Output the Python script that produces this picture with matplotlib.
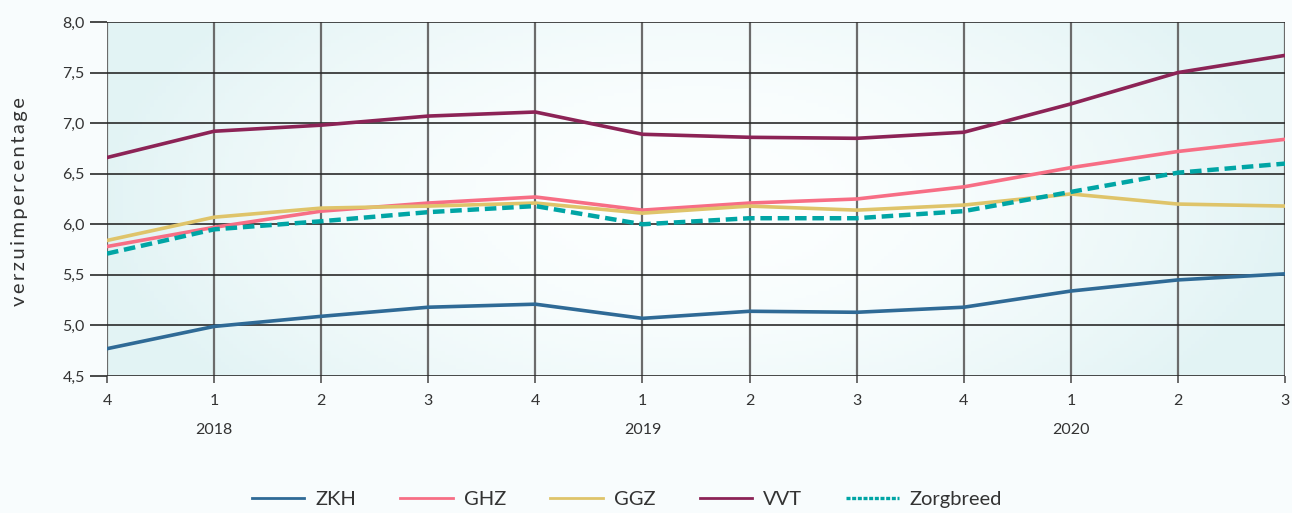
import numpy as np
import matplotlib.pyplot as plt
from matplotlib.lines import Line2D

plt.rcParams['font.family'] = ['Lato', 'DejaVu Sans']

quarters = ["4", "1", "2", "3", "4", "1", "2", "3", "4", "1", "2", "3"]
years = ["2018", "2019", "2020"]
year_pos = [1, 5, 9]

zkh = [4.77, 4.99, 5.09, 5.18, 5.21, 5.07, 5.14, 5.13, 5.18, 5.34, 5.45, 5.51]
ghz = [5.78, 5.97, 6.13, 6.21, 6.27, 6.14, 6.21, 6.25, 6.37, 6.56, 6.72, 6.84]
ggz = [5.84, 6.07, 6.16, 6.18, 6.21, 6.11, 6.18, 6.14, 6.19, 6.30, 6.20, 6.18]
vvt = [6.66, 6.92, 6.98, 7.07, 7.11, 6.89, 6.86, 6.85, 6.91, 7.19, 7.50, 7.67]
zorgbreed = [5.71, 5.95, 6.03, 6.12, 6.18, 6.00, 6.06, 6.06, 6.13, 6.32, 6.51, 6.60]

bg = "#f8fcfd"
fig = plt.figure(figsize=(12.92, 5.13), dpi=100, facecolor=bg)
ax = fig.add_axes([107 / 1292, 1 - 376 / 513, 1178 / 1292, 354 / 513])
ax.set_facecolor(bg)

x = np.arange(len(quarters))
ax.set_xlim(0, len(quarters) - 1)
ax.set_ylim(4.5, 8.0)

# soft teal gradient behind the plot, lighter in the middle
gx = np.linspace(-1, 1, 300)
gy = np.linspace(-1, 1, 100)
GX, GY = np.meshgrid(gx, gy)
r = np.clip(np.sqrt(GX ** 2 + 0.35 * GY ** 2), 0, 1)
edge = np.array([0.89, 0.955, 0.96])
center = np.array([0.99, 1.0, 1.0])
img = center + (edge - center) * r[..., None] ** 1.8
ax.imshow(img, extent=[0, len(quarters) - 1, 4.5, 8.0], aspect="auto", zorder=0)

for xi in x:
    ax.axvline(xi, color="#6b6b6b", lw=1.6, zorder=1)
for yv in np.arange(4.5, 8.01, 0.5):
    ax.axhline(yv, color="#2a2a2a", lw=1.2, zorder=1)

series = [
    ("ZKH", zkh, "#2f6a96"),
    ("GHZ", ghz, "#f76e85"),
    ("GGZ", ggz, "#dfc46a"),
    ("VVT", vvt, "#8c2356"),
]
handles = []
for name, vals, col in series:
    ax.plot(x, vals, color=col, lw=2.6, zorder=3)
    handles.append(Line2D([], [], color=col, lw=2.0, label=name))
ax.plot(x, zorgbreed, color="#00a5a5", lw=3.2, ls=(0, (2.6, 1.3)), zorder=4)
handles.append(Line2D([], [], color="#00a5a5", lw=2.4, ls=(0, (1.2, 0.5)), label="Zorgbreed"))

for s in ax.spines.values():
    s.set_visible(False)

ax.set_xticks(x)
ax.set_xticklabels(quarters)
ax.set_yticks(np.arange(4.5, 8.01, 0.5))
ax.set_yticklabels([f"{v:.1f}".replace(".", ",") for v in np.arange(4.5, 8.01, 0.5)])
ax.tick_params(axis="y", length=12, width=1.2, color="#2a2a2a", labelsize=11.5, labelcolor="#333333", pad=4)
ax.tick_params(axis="x", length=5, width=1.4, color="#6b6b6b", labelsize=11.5, labelcolor="#333333", pad=8)

for yr, p in zip(years, year_pos):
    ax.text(p, 4.5 - 0.535, yr, ha="center", va="center", fontsize=11.5, color="#333333")

fig.text(20 / 1292, 1 - 202 / 513, "\u2009".join("verzuimpercentage"),
         rotation=90, ha="center", va="center", fontsize=14.5, color="#333333")

fig.legend(handles=handles, loc="center", bbox_to_anchor=(627 / 1292, 1 - 499 / 513), ncol=5,
           frameon=False, fontsize=14.5, handlelength=2.6, columnspacing=2.2, handletextpad=0.55,
           labelcolor="#333333")

fig.savefig("out.png", dpi=100, facecolor=bg)
